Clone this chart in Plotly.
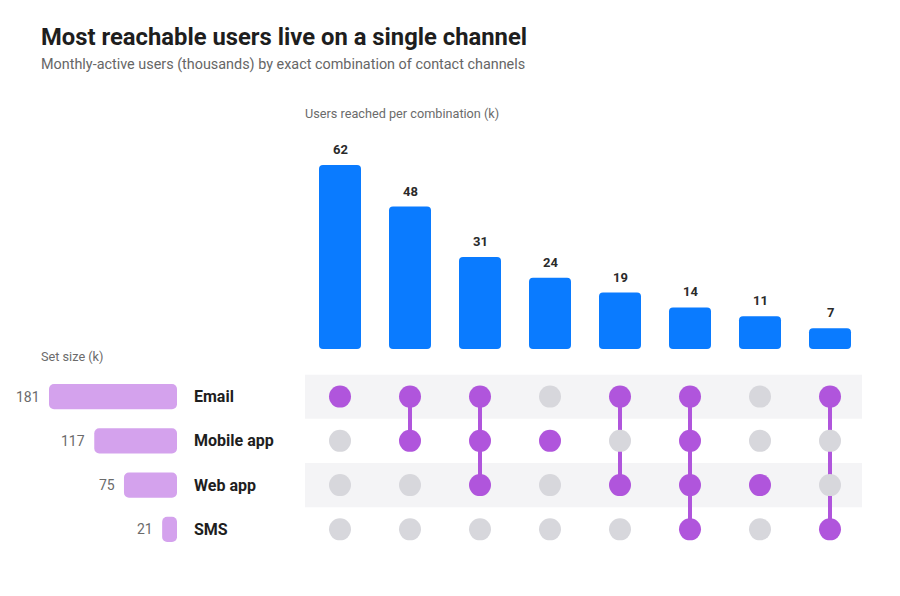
import plotly.graph_objects as go

# ---- data ----
sets = ["Email", "Mobile app", "Web app", "SMS"]
set_sizes = [181, 117, 75, 21]
combo_values = [62, 48, 31, 24, 19, 14, 11, 7]
# membership: list of set indices per combination
combo_members = [
    [0],
    [0, 1],
    [0, 1, 2],
    [1],
    [0, 2],
    [0, 1, 2, 3],
    [2],
    [0, 3],
]

# page body has an 8px margin; work in reference pixel coordinates
OFF = 8
W, H = 900 - OFF, 596 - OFF
def px(x):
    return (x - OFF) / W
def py(y):
    return 1 - (y - OFF) / H

BLUE = "#0a7bff"
PURPLE = "#b055dc"
GRAY_DOT = "#d7d7dc"
SET_BAR = "#d4a2ed"
BAND = "#f4f4f6"

fig = go.Figure()
n = len(combo_values)
xs = list(range(n))
rows = list(range(len(sets)))

# intersection bars
fig.add_trace(go.Bar(
    x=xs, y=combo_values, base=[0] * n, xaxis="x", yaxis="y",
    marker=dict(color=BLUE, cornerradius=4, line=dict(width=0)),
    width=0.6, hoverinfo="skip",
))

# connecting lines
for i, mem in enumerate(combo_members):
    if len(mem) > 1:
        fig.add_trace(go.Scatter(
            x=[i, i], y=[min(mem), max(mem)], xaxis="x", yaxis="y2",
            mode="lines", line=dict(color=PURPLE, width=4),
            hoverinfo="skip", showlegend=False,
        ))

gx, gy, ax_, ay = [], [], [], []
for i, mem in enumerate(combo_members):
    for r in rows:
        if r in mem:
            ax_.append(i); ay.append(r)
        else:
            gx.append(i); gy.append(r)
fig.add_trace(go.Scatter(
    x=gx, y=gy, xaxis="x", yaxis="y2", mode="markers",
    marker=dict(size=22, color=GRAY_DOT, line=dict(width=0)),
    hoverinfo="skip", showlegend=False,
))
fig.add_trace(go.Scatter(
    x=ax_, y=ay, xaxis="x", yaxis="y2", mode="markers",
    marker=dict(size=22, color=PURPLE, line=dict(width=0)),
    hoverinfo="skip", showlegend=False,
))

# set size bars
fig.add_trace(go.Bar(
    x=set_sizes, base=[0] * len(sets), y=rows, orientation="h",
    xaxis="x2", yaxis="y3",
    marker=dict(color=SET_BAR, cornerradius=5, line=dict(width=0)),
    width=0.57, hoverinfo="skip",
))

bar_scale = 184 / 62.0
ymax = 70
bar_bottom = 349
bar_top = bar_bottom - ymax * bar_scale

mat_top, mat_bot = 374.5, 551.5

set_scale = 128 / 181.0
xmax2 = 200
set_right = 177
set_left = set_right - xmax2 * set_scale

shapes = []
for r in range(0, len(sets), 2):
    shapes.append(dict(
        type="rect", xref="paper", yref="y2",
        x0=px(305), x1=px(862), y0=r - 0.5, y1=r + 0.5,
        fillcolor=BAND, line=dict(width=0), layer="below",
    ))

annotations = [
    dict(text="<b>Most reachable users live on a single channel</b>", xref="paper", yref="paper",
         x=px(39), y=py(37), xanchor="left", yanchor="middle", showarrow=False,
         font=dict(family="Roboto", size=23.8, color="#1e1e1e")),
    dict(text="Monthly-active users (thousands) by exact combination of contact channels",
         xref="paper", yref="paper", x=px(39), y=py(65), xanchor="left", yanchor="middle",
         showarrow=False, font=dict(family="Roboto", size=14.4, color="#666666")),
    dict(text="Users reached per combination (k)", xref="paper", yref="paper",
         x=px(303), y=py(113), xanchor="left", yanchor="middle", showarrow=False,
         font=dict(family="Roboto", size=12.7, color="#6b6b6b")),
    dict(text="Set size (k)", xref="paper", yref="paper",
         x=px(39), y=py(356), xanchor="left", yanchor="middle", showarrow=False,
         font=dict(family="Roboto", size=12.7, color="#6b6b6b")),
]
for r, s in enumerate(sets):
    annotations.append(dict(
        text=f"<b>{s}</b>", xref="paper", yref="y2", x=px(192), y=r,
        xanchor="left", yanchor="middle", showarrow=False,
        font=dict(family="Roboto", size=16, color="#1e1e1e"),
    ))
for r, v in enumerate(set_sizes):
    annotations.append(dict(
        text=str(v), xref="x2", yref="y3", x=v, y=r, xanchor="right", yanchor="middle",
        xshift=-7, showarrow=False,
        font=dict(family="Roboto", size=14, color="#6b6b6b"),
    ))
for i, v in enumerate(combo_values):
    annotations.append(dict(
        text=f"<b>{v}</b>", xref="x", yref="y", x=i, y=v, xanchor="center", yanchor="bottom",
        yshift=6, showarrow=False,
        font=dict(family="Roboto", size=13, color="#2a2a2a"),
    ))

hidden = dict(showgrid=False, zeroline=False, showticklabels=False, showline=False, ticks="")

fig.update_layout(
    width=W, height=H,
    margin=dict(l=0, r=0, t=0, b=0),
    paper_bgcolor="white", plot_bgcolor="rgba(0,0,0,0)",
    showlegend=False, barmode="overlay",
    font=dict(family="Roboto"),
    xaxis=dict(domain=[px(305), px(865)], range=[-0.5, n - 0.5], anchor="y", **hidden),
    yaxis=dict(domain=[py(bar_bottom), py(bar_top)], range=[0, ymax], anchor="x", **hidden),
    yaxis2=dict(domain=[py(mat_bot), py(mat_top)], range=[len(sets) - 0.5, -0.5], anchor="x", **hidden),
    xaxis2=dict(domain=[px(set_left), px(set_right)], range=[xmax2, 0], anchor="y3", **hidden),
    yaxis3=dict(domain=[py(mat_bot), py(mat_top)], range=[len(sets) - 0.5, -0.5], anchor="x2", **hidden),
    shapes=shapes, annotations=annotations,
)

fig.write_html("out.html", config={"displayModeBar": False})
